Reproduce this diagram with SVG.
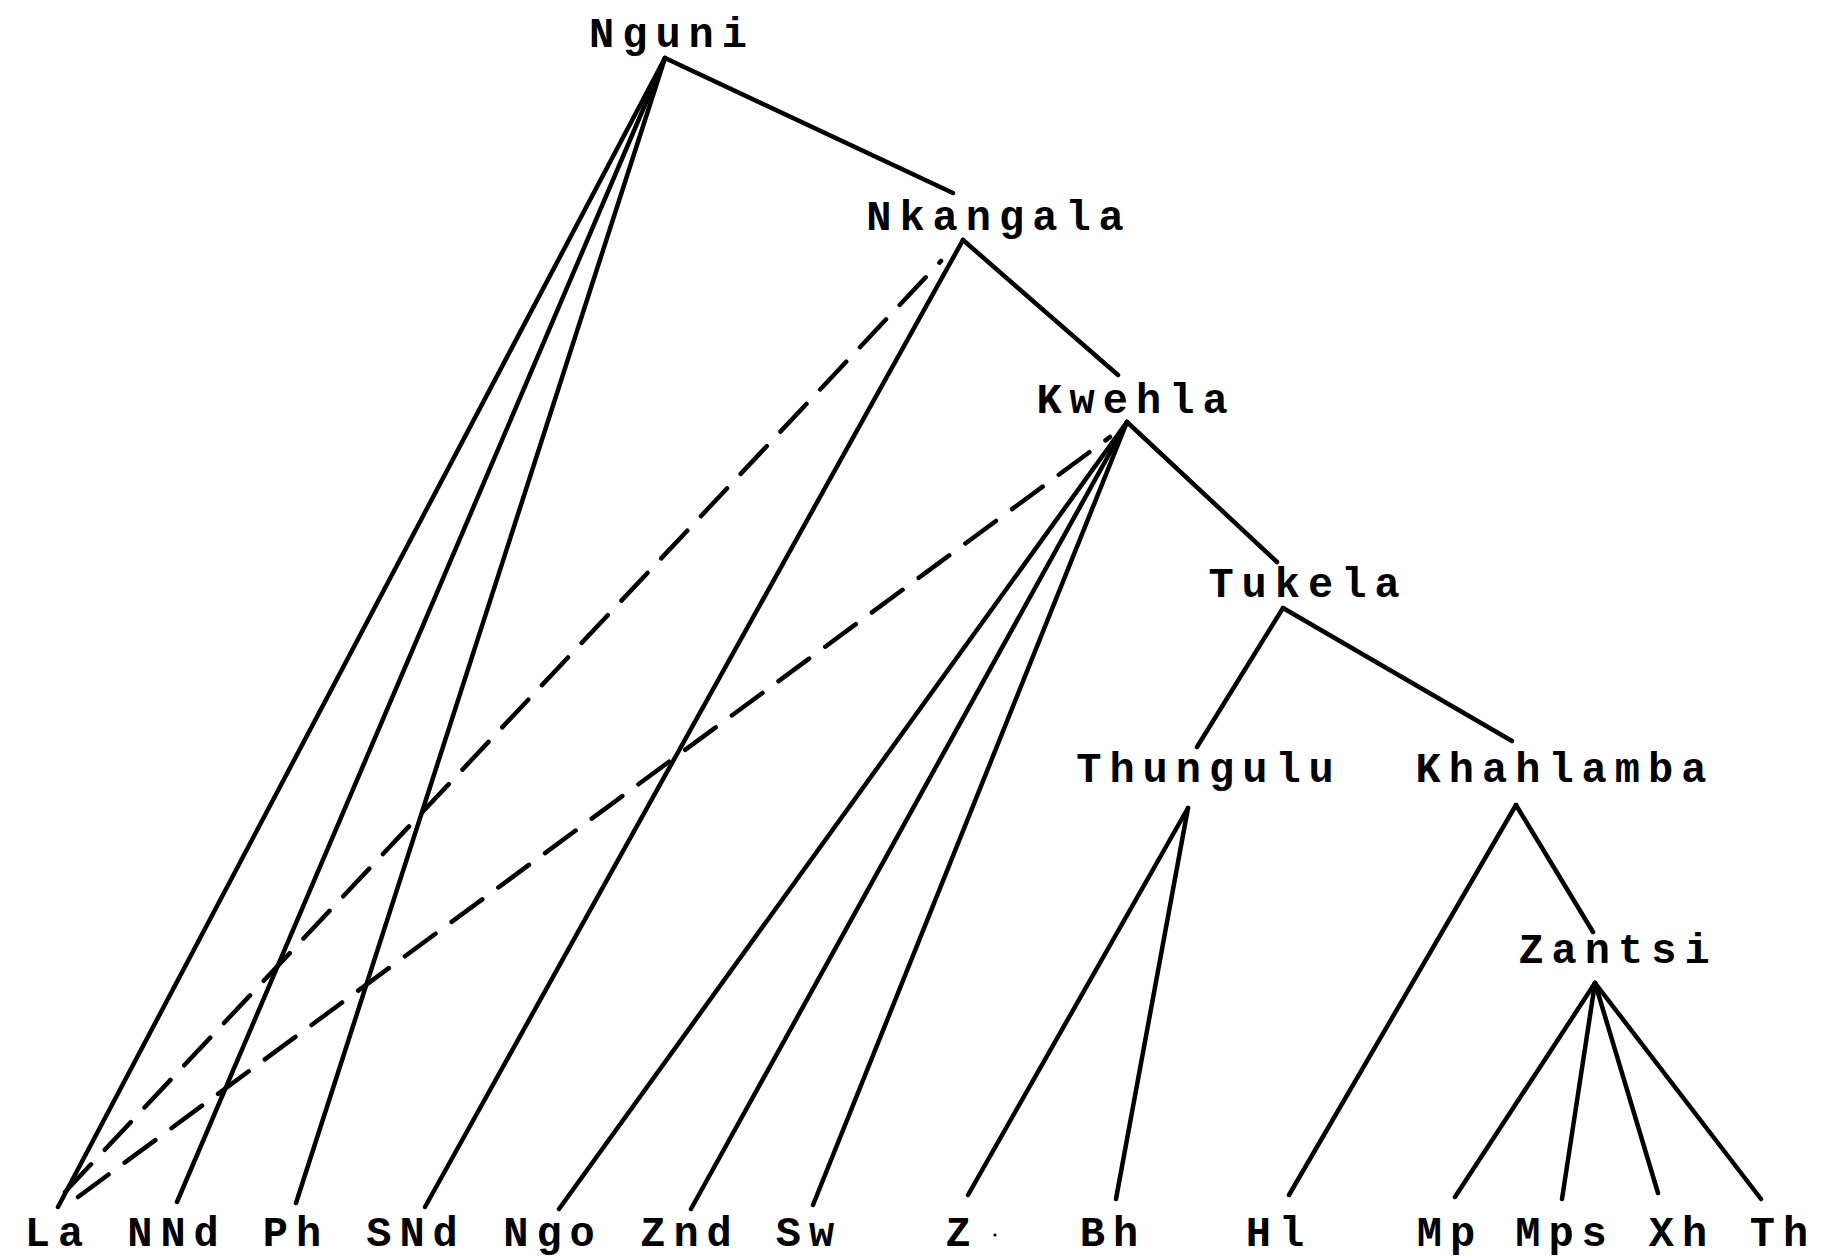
<svg xmlns="http://www.w3.org/2000/svg" width="1826" height="1257" viewBox="0 0 1826 1257">
<style>
  text { font-family: "Liberation Mono", "DejaVu Sans Mono", monospace; font-size: 42px; font-weight: bold; letter-spacing: 8px; fill: #000; text-anchor: middle; }
  .edge { stroke: #000; stroke-width: 4.5; stroke-linecap: round; fill: none; }
  .dash { stroke-dasharray: 38 20; }
</style>
<rect width="1826" height="1257" fill="#fff"/>
<g id="connectors">
  <line class="edge" x1="665" y1="58" x2="953" y2="193"/>
  <line class="edge" x1="963" y1="240" x2="1118" y2="375"/>
  <line class="edge" x1="1127" y1="422" x2="1277" y2="562"/>
  <line class="edge" x1="1283" y1="608" x2="1197" y2="747"/>
  <line class="edge" x1="1283" y1="608" x2="1512" y2="741"/>
  <line class="edge" x1="1516" y1="805" x2="1593" y2="932"/>
  <line class="edge" x1="665" y1="58" x2="58" y2="1207"/>
  <line class="edge" x1="665" y1="58" x2="177" y2="1202"/>
  <line class="edge" x1="665" y1="58" x2="296" y2="1203"/>
  <line class="edge" x1="963" y1="240" x2="425" y2="1207"/>
  <line class="edge" x1="1127" y1="422" x2="559" y2="1209"/>
  <line class="edge" x1="1127" y1="422" x2="691" y2="1209"/>
  <line class="edge" x1="1127" y1="422" x2="813" y2="1205"/>
  <line class="edge" x1="1188" y1="808" x2="968" y2="1195"/>
  <line class="edge" x1="1188" y1="808" x2="1116" y2="1199"/>
  <line class="edge" x1="1516" y1="805" x2="1289" y2="1195"/>
  <line class="edge" x1="1595" y1="983" x2="1455" y2="1197"/>
  <line class="edge" x1="1595" y1="983" x2="1562" y2="1199"/>
  <line class="edge" x1="1595" y1="983" x2="1658" y2="1193"/>
  <line class="edge" x1="1595" y1="983" x2="1761" y2="1199"/>
  <line class="edge dash" x1="65" y1="1192" x2="941" y2="261"/>
  <line class="edge dash" x1="78" y1="1197" x2="1110" y2="437"/>
</g>
<g id="node-nguni"><text x="672" y="47">Nguni</text></g>
<g id="node-nkangala"><text x="999" y="230">Nkangala</text></g>
<g id="node-kwehla"><text x="1136" y="413">Kwehla</text></g>
<g id="node-tukela"><text x="1308" y="597">Tukela</text></g>
<g id="node-thungulu"><text x="1209" y="782">Thungulu</text></g>
<g id="node-khahlamba"><text x="1565" y="782">Khahlamba</text></g>
<g id="node-zantsi"><text x="1618" y="963">Zantsi</text></g>
<g id="node-la"><text x="58" y="1246">La</text></g>
<g id="node-nnd"><text x="177" y="1246">NNd</text></g>
<g id="node-ph"><text x="296" y="1246">Ph</text></g>
<g id="node-snd"><text x="416" y="1246">SNd</text></g>
<g id="node-ngo"><text x="553" y="1246">Ngo</text></g>
<g id="node-znd"><text x="690" y="1246">Znd</text></g>
<g id="node-sw"><text x="809" y="1246">Sw</text></g>
<g id="node-z"><text x="962" y="1246">Z</text><circle cx="995" cy="1235" r="1.6" fill="#000"/></g>
<g id="node-bh"><text x="1113" y="1246">Bh</text></g>
<g id="node-hl"><text x="1279" y="1246">Hl</text></g>
<g id="node-mp"><text x="1450" y="1246">Mp</text></g>
<g id="node-mps"><text x="1565" y="1246">Mps</text></g>
<g id="node-xh"><text x="1682" y="1246">Xh</text></g>
<g id="node-th"><text x="1783" y="1246">Th</text></g>
</svg>
